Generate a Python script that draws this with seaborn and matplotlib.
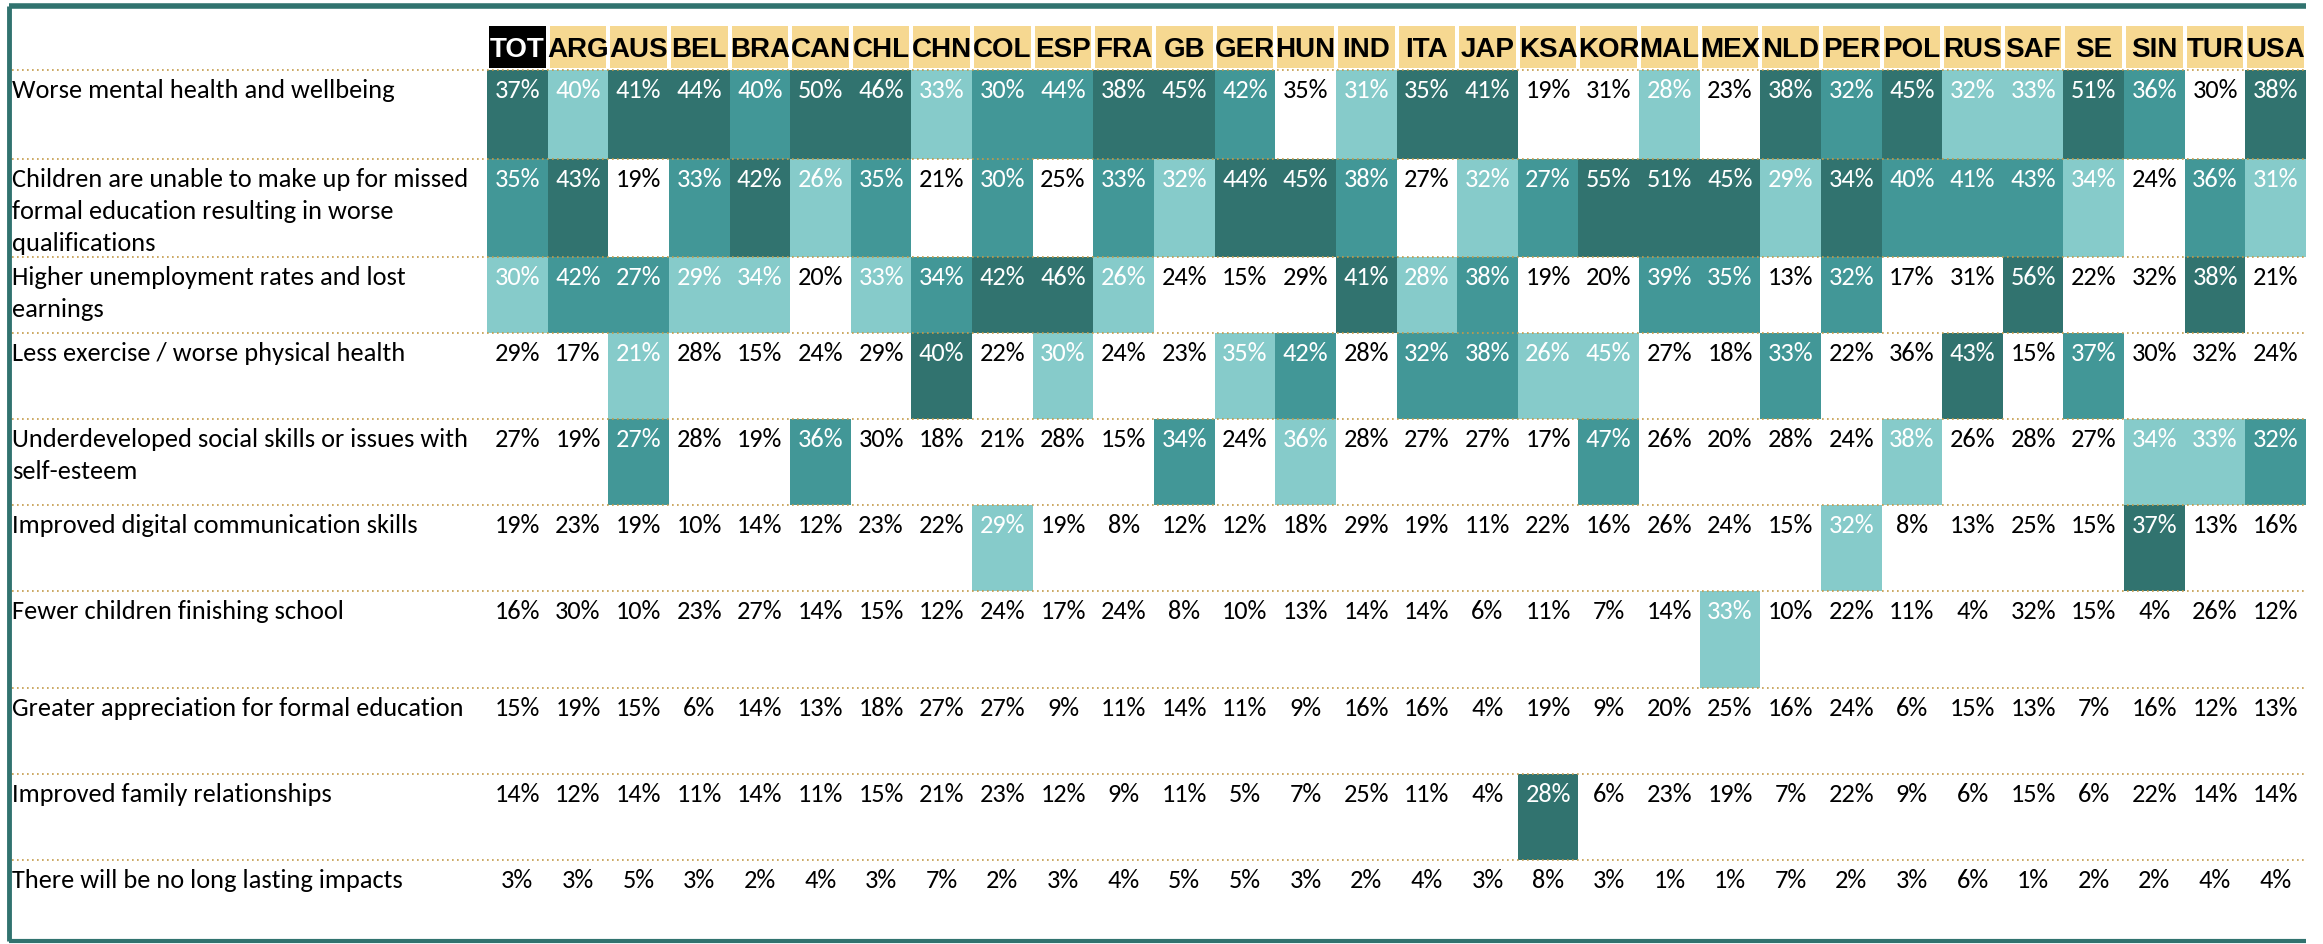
import numpy as np
import pandas as pd
import matplotlib
matplotlib.use("Agg")
import matplotlib.pyplot as plt
import seaborn as sns
from matplotlib.colors import ListedColormap
from matplotlib.lines import Line2D

# Columns and rows
countries = ["TOT", "ARG", "AUS", "BEL", "BRA", "CAN", "CHL", "CHN", "COL", "ESP",
             "FRA", "GB", "GER", "HUN", "IND", "ITA", "JAP", "KSA", "KOR", "MAL",
             "MEX", "NLD", "PER", "POL", "RUS", "SAF", "SE", "SIN", "TUR", "USA"]

impacts = [
    "Worse mental health and wellbeing",
    "Children are unable to make up for missed\nformal education resulting in worse\nqualifications",
    "Higher unemployment rates and lost\nearnings",
    "Less exercise / worse physical health",
    "Underdeveloped social skills or issues with\nself-esteem",
    "Improved digital communication skills",
    "Fewer children finishing school",
    "Greater appreciation for formal education",
    "Improved family relationships",
    "There will be no long lasting impacts",
]

# Percentages per impact (same order as countries)
mental_health = [37, 40, 41, 44, 40, 50, 46, 33, 30, 44, 38, 45, 42, 35, 31, 35, 41, 19, 31, 28, 23, 38, 32, 45, 32, 33, 51, 36, 30, 38]
missed_education = [35, 43, 19, 33, 42, 26, 35, 21, 30, 25, 33, 32, 44, 45, 38, 27, 32, 27, 55, 51, 45, 29, 34, 40, 41, 43, 34, 24, 36, 31]
unemployment = [30, 42, 27, 29, 34, 20, 33, 34, 42, 46, 26, 24, 15, 29, 41, 28, 38, 19, 20, 39, 35, 13, 32, 17, 31, 56, 22, 32, 38, 21]
less_exercise = [29, 17, 21, 28, 15, 24, 29, 40, 22, 30, 24, 23, 35, 42, 28, 32, 38, 26, 45, 27, 18, 33, 22, 36, 43, 15, 37, 30, 32, 24]
social_skills = [27, 19, 27, 28, 19, 36, 30, 18, 21, 28, 15, 34, 24, 36, 28, 27, 27, 17, 47, 26, 20, 28, 24, 38, 26, 28, 27, 34, 33, 32]
digital_skills = [19, 23, 19, 10, 14, 12, 23, 22, 29, 19, 8, 12, 12, 18, 29, 19, 11, 22, 16, 26, 24, 15, 32, 8, 13, 25, 15, 37, 13, 16]
fewer_finishing = [16, 30, 10, 23, 27, 14, 15, 12, 24, 17, 24, 8, 10, 13, 14, 14, 6, 11, 7, 14, 33, 10, 22, 11, 4, 32, 15, 4, 26, 12]
appreciation = [15, 19, 15, 6, 14, 13, 18, 27, 27, 9, 11, 14, 11, 9, 16, 16, 4, 19, 9, 20, 25, 16, 24, 6, 15, 13, 7, 16, 12, 13]
family = [14, 12, 14, 11, 14, 11, 15, 21, 23, 12, 9, 11, 5, 7, 25, 11, 4, 28, 6, 23, 19, 7, 22, 9, 6, 15, 6, 22, 14, 14]
no_impact = [3, 3, 5, 3, 2, 4, 3, 7, 2, 3, 4, 5, 5, 3, 2, 4, 3, 8, 3, 1, 1, 7, 2, 3, 6, 1, 2, 2, 4, 4]

# Highlight level of each cell: 0 none, 1 light, 2 medium, 3 dark
shade_mental = [3, 1, 3, 3, 2, 3, 3, 1, 2, 2, 3, 3, 2, 0, 1, 3, 3, 0, 0, 1, 0, 3, 2, 3, 1, 1, 3, 2, 0, 3]
shade_education = [2, 3, 0, 2, 3, 1, 2, 0, 2, 0, 2, 1, 3, 3, 2, 0, 1, 2, 3, 3, 3, 1, 3, 2, 2, 2, 1, 0, 2, 1]
shade_unemployment = [1, 2, 2, 1, 1, 0, 1, 2, 3, 3, 1, 0, 0, 0, 3, 1, 2, 0, 0, 2, 2, 0, 2, 0, 0, 3, 0, 0, 3, 0]
shade_exercise = [0, 0, 1, 0, 0, 0, 0, 3, 0, 1, 0, 0, 1, 2, 0, 2, 2, 1, 1, 0, 0, 2, 0, 0, 3, 0, 2, 0, 0, 0]
shade_social = [0, 0, 2, 0, 0, 2, 0, 0, 0, 0, 0, 2, 0, 1, 0, 0, 0, 0, 2, 0, 0, 0, 0, 1, 0, 0, 0, 1, 1, 2]
shade_digital = [0, 0, 0, 0, 0, 0, 0, 0, 1, 0, 0, 0, 0, 0, 0, 0, 0, 0, 0, 0, 0, 0, 1, 0, 0, 0, 0, 3, 0, 0]
shade_finishing = [0, 0, 0, 0, 0, 0, 0, 0, 0, 0, 0, 0, 0, 0, 0, 0, 0, 0, 0, 0, 1, 0, 0, 0, 0, 0, 0, 0, 0, 0]
shade_appreciation = [0] * 30
shade_family = [0, 0, 0, 0, 0, 0, 0, 0, 0, 0, 0, 0, 0, 0, 0, 0, 0, 3, 0, 0, 0, 0, 0, 0, 0, 0, 0, 0, 0, 0]
shade_no_impact = [0] * 30

values = pd.DataFrame([mental_health, missed_education, unemployment, less_exercise, social_skills,
                       digital_skills, fewer_finishing, appreciation, family, no_impact],
                      index=impacts, columns=countries)
shades = pd.DataFrame([shade_mental, shade_education, shade_unemployment, shade_exercise, shade_social,
                       shade_digital, shade_finishing, shade_appreciation, shade_family, shade_no_impact],
                      index=impacts, columns=countries)

# colours
WHITE = "#FFFFFF"
LIGHT = "#86CBCA"
MEDIUM = "#429797"
DARK = "#31736F"
GOLD = "#F6D891"
DOTS = "#C49A48"

body_font = ["Carlito", "Lato", "DejaVu Sans"]
head_font = ["Liberation Sans", "DejaVu Sans"]

W, H = 2323, 944
fig = plt.figure(figsize=(W / 100, H / 100), dpi=100)

# layout in pixels (rows are not all the same height, like the source sheet)
x_left, x_right, x_label = 487, 2306, 12
y_head = 24
row_edges = [70, 159, 257, 333, 419, 505, 591, 688, 774, 860, 942]
base_px, gap_px = 28, 32   # first baseline below row top, wrapped line spacing

cell_cmap = ListedColormap([WHITE, LIGHT, MEDIUM, DARK])

for i, impact in enumerate(impacts):
    top, bot = row_edges[i], row_edges[i + 1]
    rax = fig.add_axes([x_left / W, 1 - bot / H, (x_right - x_left) / W, (bot - top) / H])
    sns.heatmap(shades.iloc[[i]], ax=rax, cmap=cell_cmap, vmin=-0.5, vmax=3.5, cbar=False,
                xticklabels=False, yticklabels=False)
    yb = base_px / (bot - top)
    for j, c in enumerate(countries):
        col = "black" if shades.loc[impact, c] == 0 else "white"
        rax.text(j + 0.5, yb, f"{values.loc[impact, c]}%", ha="center", va="baseline",
                 fontsize=19, color=col, family=body_font)
    # row label
    for k, line in enumerate(impact.split("\n")):
        fig.text(x_label / W, 1 - (top + base_px + k * gap_px) / H, line, ha="left",
                 va="baseline", fontsize=19, family=body_font)
    # dotted separator on top of row
    fig.add_artist(Line2D([x_label / W, x_right / W], [1 - top / H, 1 - top / H], color=DOTS,
                          linestyle=(0, (1, 2)), linewidth=1.2, zorder=5))

# header row
hax = fig.add_axes([x_left / W, 1 - row_edges[0] / H, (x_right - x_left) / W,
                    (row_edges[0] - y_head) / H])
head_codes = pd.DataFrame([[0 if c == "TOT" else 1 for c in countries]], columns=countries)
sns.heatmap(head_codes, ax=hax, cmap=ListedColormap(["black", GOLD]), vmin=-0.5, vmax=1.5,
            cbar=False, linewidths=1.5, linecolor="white", xticklabels=False, yticklabels=False)
for j, c in enumerate(countries):
    hax.text(j + 0.5, 0.72, c, ha="center", va="baseline", fontsize=20, fontweight="bold",
             color="white" if c == "TOT" else "black", family=head_font)

# frame: top, left and bottom rules
fx0, fy_top, fy_bot = 9 / W, 1 - 5.5 / H, 1 - 941 / H
fig.add_artist(Line2D([fx0, x_right / W], [fy_top, fy_top], color=DARK, linewidth=4,
                      solid_capstyle="butt"))
fig.add_artist(Line2D([fx0, fx0], [fy_top, fy_bot], color=DARK, linewidth=3.5,
                      solid_capstyle="butt"))
fig.add_artist(Line2D([fx0, x_right / W], [fy_bot, fy_bot], color=DARK, linewidth=3,
                      solid_capstyle="butt"))

fig.savefig("out.png", dpi=100)
